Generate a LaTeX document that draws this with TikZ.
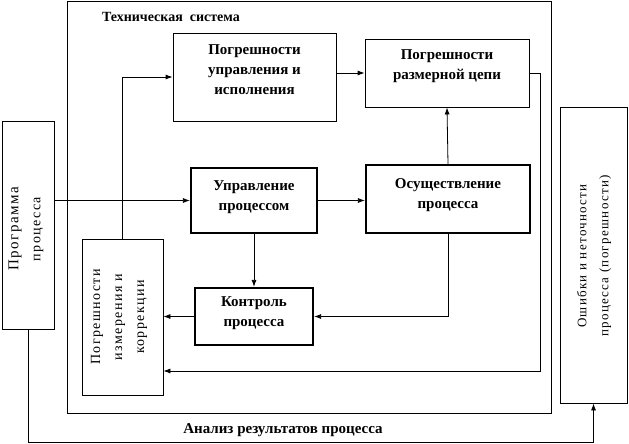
\documentclass[tikz,border=0pt]{standalone}
\usepackage{fontspec}
\setmainfont{Liberation Serif}
\newfontfamily\spacedfont{Liberation Serif}[LetterSpace=10]
\usetikzlibrary{arrows.meta}

\begin{document}
\begin{tikzpicture}[x=1pt, y=-1pt,
    box/.style={draw, line width=0.8pt, align=center, inner sep=0pt,
        font=\fontsize{15}{20}\selectfont\bfseries},
    thickbox/.style={box, line width=2.2pt},
    vtext/.style={rotate=90, align=center,
        font=\fontsize{14}{22}\selectfont\spacedfont},
    arr/.style={line width=0.8pt, -{Latex[length=7pt, width=5pt]}}]
    \useasboundingbox (0,0) rectangle (629,444);

    % technical system frame
    \node[draw, line width=0.8pt, minimum width=484pt, minimum height=412pt] (sys) at (309,207) {};
    \node[font=\fontsize{14}{17}\selectfont\bfseries] (title) at (171,17) {Техническая\ \ система};

    \node[box, minimum width=163pt, minimum height=88pt, text depth=15pt] (uprisp) at (254.5,77)
        {Погрешности\\управления и\\исполнения};
    \node[box, minimum width=164pt, minimum height=68pt, text depth=16pt] (razm) at (447,73)
        {Погрешности\\размерной цепи};
    \node[thickbox, minimum width=126pt, minimum height=65pt, text depth=10pt] (upr) at (254,200.5)
        {Управление\\процессом};
    \node[thickbox, minimum width=164pt, minimum height=68pt, text depth=11pt] (osush) at (448,199)
        {Осуществление\\процесса};
    \node[thickbox, minimum width=118pt, minimum height=57pt, text depth=10pt] (kontr) at (254,316.5)
        {Контроль\\процесса};

    \node[box, minimum width=81pt, minimum height=156pt] (izm) at (122.5,317) {};
    \node[vtext] (izm-t) at (119,317) {Погрешности\\измерения и\\коррекции};

    \node[box, minimum width=52pt, minimum height=208pt] (prog) at (28,225) {};
    \node[vtext] (prog-t) at (26,229) {{\fontsize{15}{22}\selectfont Программа}\\процесса};

    \node[box, minimum width=67pt, minimum height=296pt] (oshib) at (593.5,255) {};
    \node[vtext, font=\fontsize{13}{22}\selectfont\spacedfont] (oshib-t) at (594,256)
        {Ошибки и неточности\\процесса (погрешности)};

    \node[font=\fontsize{15}{17}\selectfont\bfseries] (anal) at (283,430) {Анализ результатов процесса};

    \coordinate (rb) at (540,371);
    \coordinate (lb) at (27,442);

    % connectors
    \draw[arr] (prog.east |- upr) -- (upr.west);
    \draw[arr] (izm.north) |- (uprisp.west);
    \draw[arr] (uprisp.east |- razm) -- (razm.west);
    \draw[arr] (upr.east) -- (upr.east -| osush.west);
    \draw[arr] (osush.north) -- (razm.south);
    \draw[arr] (osush.south) |- (kontr.east);
    \draw[arr] (upr.south) -- (kontr.north);
    \draw[arr] (kontr.west) -- (izm.east |- kontr.west);
    \draw[arr] (razm.east) -| (rb) -- (rb -| izm.east);
    \draw[arr] (prog.south) |- (oshib.south |- lb) -- (oshib.south);

\end{tikzpicture}
\end{document}
